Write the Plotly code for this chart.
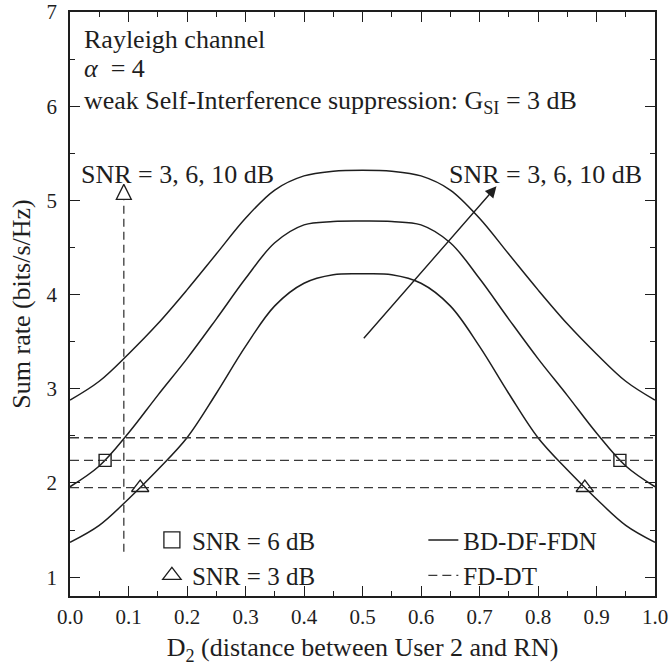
import plotly.graph_objects as go

# ---- data ----
d2 = [0.00, 0.05, 0.10, 0.15, 0.20, 0.25, 0.30, 0.35, 0.40, 0.45, 0.50,
      0.55, 0.60, 0.65, 0.70, 0.75, 0.80, 0.85, 0.90, 0.95, 1.00]
bd_snr10 = [2.88, 3.08, 3.37, 3.69, 4.05, 4.43, 4.81, 5.11, 5.26, 5.31, 5.32,
            5.31, 5.26, 5.11, 4.81, 4.43, 4.05, 3.69, 3.37, 3.08, 2.88]
bd_snr6 = [1.96, 2.18, 2.53, 2.93, 3.32, 3.74, 4.17, 4.55, 4.74, 4.775, 4.78,
           4.775, 4.74, 4.55, 4.17, 3.74, 3.32, 2.93, 2.53, 2.18, 1.96]
bd_snr3 = [1.37, 1.55, 1.83, 2.14, 2.48, 2.95, 3.45, 3.88, 4.12, 4.21, 4.22,
           4.21, 4.12, 3.88, 3.45, 2.95, 2.48, 2.14, 1.83, 1.55, 1.37]
fd_dt = {"10": 2.48, "6": 2.24, "3": 1.95}
sq_x = [0.06, 0.94]          # crossing points SNR = 6 dB
sq_y = [2.24, 2.24]
tri_x = [0.12, 0.88]         # crossing points SNR = 3 dB
tri_y = [1.95, 1.95]
left_arrow_x = [0.092, 0.092]
left_arrow_y = [1.27, 5.00]
left_arrow_tip = 5.17
right_arrow_tail = (0.50, 3.52)
right_arrow_tip = (0.729, 5.15)
x_ticks = [0.0, 0.1, 0.2, 0.3, 0.4, 0.5, 0.6, 0.7, 0.8, 0.9, 1.0]
y_ticks = [1, 2, 3, 4, 5, 6, 7]

FONT = "Liberation Serif"
INK = "#1e1e1e"
DASH_C = "#3a3a3a"

fig = go.Figure()

for i, ys in enumerate([bd_snr3, bd_snr6, bd_snr10]):
    fig.add_trace(go.Scatter(
        x=d2, y=ys, mode="lines",
        line=dict(color=INK, width=1.5, shape="spline", smoothing=1.0),
        name="BD-DF-FDN", legend="legend2", showlegend=(i == 0)))

for i, key in enumerate(["3", "6", "10"]):
    fig.add_trace(go.Scatter(
        x=[0, 1], y=[fd_dt[key], fd_dt[key]], mode="lines",
        line=dict(color=DASH_C, width=1.3, dash="9px,5px"),
        name="FD-DT", legend="legend2", showlegend=(i == 0)))

fig.add_trace(go.Scatter(
    x=sq_x, y=sq_y, mode="markers", showlegend=False,
    marker=dict(symbol="square-open", size=12, color=INK, line=dict(width=1.4))))
fig.add_trace(go.Scatter(
    x=tri_x, y=tri_y, mode="markers", showlegend=False,
    marker=dict(symbol="triangle-up-open", size=15, color=INK, line=dict(width=1.4))))
# legend entries (larger symbols, as in the original key)
fig.add_trace(go.Scatter(
    x=[None], y=[None], mode="markers", name="SNR = 6 dB", legend="legend",
    marker=dict(symbol="square-open", size=16, color=INK, line=dict(width=1.3))))
fig.add_trace(go.Scatter(
    x=[None], y=[None], mode="markers", name="SNR = 3 dB", legend="legend",
    marker=dict(symbol="triangle-up-open", size=18, color=INK, line=dict(width=1.3))))

# left dashed arrow with open head
fig.add_trace(go.Scatter(
    x=left_arrow_x, y=left_arrow_y, mode="lines", showlegend=False,
    line=dict(color=DASH_C, width=1.3, dash="8px,5px")))
fig.add_trace(go.Scatter(
    x=[left_arrow_x[0]], y=[left_arrow_tip], mode="markers", showlegend=False,
    marker=dict(symbol="arrow-up-open", size=15, color=INK, line=dict(width=1.3))))

# right solid arrow
fig.add_annotation(x=right_arrow_tip[0], y=right_arrow_tip[1],
                   ax=right_arrow_tail[0], ay=right_arrow_tail[1],
                   xref="x", yref="y", axref="x", ayref="y", text="",
                   showarrow=True, arrowhead=2, arrowsize=1.6, arrowwidth=1.4,
                   arrowcolor=INK)

tf = dict(family=FONT, size=26, color=INK)
fig.add_annotation(x=0.02, y=6.71, xref="x", yref="y", text="Rayleigh channel",
                   showarrow=False, xanchor="left", font=tf)
fig.add_annotation(x=0.02, y=6.395, xref="x", yref="y", text="<i>α</i>  = 4",
                   showarrow=False, xanchor="left", font=tf)
fig.add_annotation(x=0.02, y=6.045, xref="x", yref="y",
                   text="weak Self-Interference suppression: G<sub>SI</sub> = 3 dB",
                   showarrow=False, xanchor="left", font=tf)
fig.add_annotation(x=0.016, y=5.27, xref="x", yref="y", text="SNR = 3, 6, 10 dB",
                   showarrow=False, xanchor="left", font=tf)
fig.add_annotation(x=0.982, y=5.27, xref="x", yref="y", text="SNR = 3, 6, 10 dB",
                   showarrow=False, xanchor="right", font=tf)

axis_common = dict(
    showline=True, linecolor=INK, linewidth=1.5, mirror="allticks",
    ticks="inside", ticklen=10, tickwidth=1.3, tickcolor=INK,
    showgrid=False, zeroline=False, automargin=False,
    tickfont=dict(family=FONT, size=21, color=INK),
)

fig.update_xaxes(range=[0, 1], tickvals=x_ticks, tickformat=".1f",
                 minor=dict(dtick=0.05, tick0=0, ticks="inside", ticklen=5,
                            tickwidth=1.3, tickcolor=INK, showgrid=False),
                 title=dict(text="D<sub>2</sub> (distance between User 2 and RN)",
                            font=dict(family=FONT, size=26, color=INK), standoff=10),
                 ticklabelstandoff=1,
                 **axis_common)
fig.update_yaxes(range=[0.8, 7], tickvals=y_ticks,
                 minor=dict(dtick=0.5, tick0=0, ticks="inside", ticklen=5,
                            tickwidth=1.3, tickcolor=INK, showgrid=False),
                 title=dict(text="Sum rate (bits/s/Hz)",
                            font=dict(family=FONT, size=26, color=INK), standoff=8),
                 ticklabelstandoff=7,
                 **axis_common)

legfont = dict(family=FONT, size=25, color=INK)
fig.update_layout(
    width=669, height=666,
    margin=dict(l=70, r=14, t=12, b=70),
    paper_bgcolor="white", plot_bgcolor="white",
    font=dict(family=FONT, color=INK),
    legend=dict(x=0.14, y=0.135, xanchor="left", yanchor="top",
                bgcolor="rgba(0,0,0,0)", font=legfont, tracegroupgap=0,
                itemwidth=30),
    legend2=dict(x=0.604, y=0.135, xanchor="left", yanchor="top",
                 bgcolor="rgba(0,0,0,0)", font=legfont, tracegroupgap=0,
                 itemwidth=30),
)

# remove the default 8 px page margin so the figure fills the window exactly
fig.write_html("out.html",
               config={"displayModeBar": False},
               post_script="document.body.style.margin='0';"
                           "document.body.style.overflow='hidden';")
